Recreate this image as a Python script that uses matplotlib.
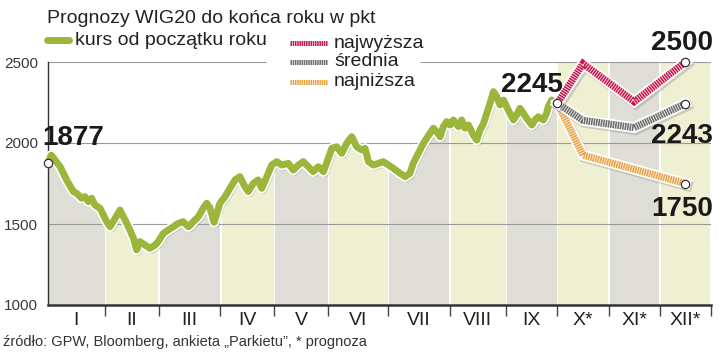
import numpy as np
import matplotlib
matplotlib.use('Agg')
import matplotlib.pyplot as plt
import matplotlib.patheffects as pe
from matplotlib.patches import Rectangle
from matplotlib.lines import Line2D

plt.rcParams['font.family'] = ['Liberation Sans', 'DejaVu Sans']
plt.rcParams['lines.scale_dashes'] = False

# DANE

months = ['I', 'II', 'III', 'IV', 'V', 'VI', 'VII', 'VIII', 'IX', 'X*', 'XI*', 'XII*']
month_sessions = [21, 20, 23, 20, 20, 22, 23, 21, 19, 19, 19, 19]

# kurs WIG20 (numer sesji, punkty)
wig_x = [0, 1.2, 4.5, 6.9, 9.4, 10.6, 12.5, 13.7, 15.0, 16.2,
         17.4, 19.3, 21.8, 23.0, 24.9, 26.7, 28.6, 30.4, 31.7, 32.9,
         34.1, 36.0, 37.8, 39.7, 40.9, 42.8, 44.6, 46.5, 48.3, 50.2,
         52.1, 53.9, 55.8, 57.6, 58.9, 60.1, 61.6, 63.8, 65.7, 67.5,
         69.4, 71.2, 73.1, 74.3, 76.2, 78.0, 79.3, 81.2, 83.0, 84.9,
         86.7, 89.2, 91.0, 92.9, 94.7, 96.6, 98.4, 100.3, 102.2, 104.0,
         105.3, 107.1, 109.0, 110.8, 112.7, 114.5, 116.4, 117.6, 118.9, 120.7,
         122.6, 124.4, 126.3, 128.1, 130.6, 132.5, 134.3, 135.5, 137.4, 139.3,
         140.5, 141.7, 143.0, 144.2, 145.5, 146.7, 147.9, 149.2, 150.4, 152.3,
         153.5, 154.7, 156.0, 157.8, 159.1, 160.3, 161.6, 162.8, 164.0, 165.3,
         166.5, 167.7, 169.0, 170.2, 171.4, 172.7, 173.9, 175.1, 176.4, 177.6,
         179.5, 180.7, 181.9, 183.8, 185.0, 185.6, 186.9, 188.1, 189]
wig_y = [1877, 1925, 1854, 1772, 1700, 1690, 1659, 1669, 1638, 1659,
         1617, 1597, 1514, 1483, 1535, 1586, 1525, 1463, 1412, 1340,
         1391, 1370, 1350, 1370, 1391, 1442, 1463, 1483, 1504, 1514,
         1483, 1514, 1545, 1597, 1628, 1600, 1510, 1628, 1669, 1720,
         1772, 1792, 1730, 1700, 1751, 1772, 1720, 1792, 1864, 1885,
         1864, 1874, 1833, 1864, 1885, 1854, 1823, 1854, 1823, 1905,
         1967, 1977, 1936, 1998, 2039, 1977, 1957, 1967, 1885, 1864,
         1874, 1885, 1864, 1844, 1813, 1792, 1813, 1874, 1936, 1998,
         2029, 2060, 2091, 2070, 2039, 2101, 2132, 2111, 2142, 2101,
         2142, 2091, 2111, 2049, 2018, 2080, 2121, 2183, 2245, 2317,
         2286, 2235, 2265, 2224, 2183, 2142, 2173, 2214, 2183, 2152,
         2111, 2142, 2162, 2142, 2183, 2224, 2265, 2255, 2245]

# prognozy: koniec IX, potem X, XI, XII
fc_high = [2245, 2490, 2255, 2500]
fc_mid = [2245, 2140, 2095, 2243]
fc_low = [2245, 1925, 1838, 1750]

edges = np.concatenate([[0], np.cumsum(month_sessions)])
mids = (edges[:-1] + edges[1:]) / 2
fc_x = [edges[9], mids[9], mids[10], mids[11]]

c_green = '#9bb63b'
c_red = '#c8174e'
c_gray = '#6e6e6e'
c_orange = '#e9a244'
band_cols = ['#deddd6', '#efefd2']
txt = '#222222'

fig = plt.figure(figsize=(7.2, 3.55), dpi=100)
ax = fig.add_axes([48 / 720, 50 / 355, 663 / 720, 243 / 355])
ax.set_xlim(0, edges[-1])
ax.set_ylim(1000, 2500)

# pasy miesięcy
gap = 0.4
for i in range(12):
    if i < 9:
        poly = ax.fill_between(wig_x, 1000, wig_y, color=band_cols[i % 2], lw=0, zorder=1)
        rect = Rectangle((edges[i] + gap, 1000), month_sessions[i] - 2 * gap, 1600,
                         transform=ax.transData)
        poly.set_clip_path(rect)
    else:
        ax.axvspan(edges[i] + gap, edges[i + 1] - gap, ymin=0, ymax=1,
                   color=band_cols[i % 2], lw=0, zorder=1)

# siatka
for v in [1500, 2000]:
    ax.axhline(v, color='#9a9a9a', lw=0.8, zorder=2)
ax.hlines(2500, 0, 81, color='#9a9a9a', lw=0.8, zorder=2)
ax.hlines(2500, 138, edges[-1], color='#9a9a9a', lw=0.8, zorder=2)

shadow = pe.SimpleLineShadow(offset=(1.2, -1.5), shadow_color='#888888', alpha=0.35)

ax.plot(wig_x, wig_y, color=c_green, lw=5.0, solid_joinstyle='round', solid_capstyle='round',
        zorder=4, clip_on=False,
        path_effects=[shadow, pe.Stroke(linewidth=7.4, foreground='white'), pe.Normal()])

for vals, col, z in [(fc_low, c_orange, 5), (fc_mid, c_gray, 6), (fc_high, c_red, 7)]:
    ax.plot(fc_x, vals, color='white', lw=7.8, solid_joinstyle='miter', zorder=z,
            clip_on=False, path_effects=[shadow, pe.Normal()])
    ax.plot(fc_x, vals, color=col, lw=5.2, linestyle=(0, (1.2, 0.55)), zorder=z,
            dash_joinstyle='miter', clip_on=False)

# kółka
mk = dict(marker='o', ms=6, mfc='white', mec='#333333', mew=0.9, ls='none', zorder=9, clip_on=False)
ax.plot([wig_x[0], fc_x[0]], [wig_y[0], fc_high[0]], **mk)
ax.plot([fc_x[-1]] * 3, [fc_high[-1], fc_mid[-1], fc_low[-1]], **mk)

# etykiety wartości
big = dict(fontsize=20, fontweight='bold', color='#1a1a1a', textcoords='offset points',
           va='center', zorder=10, annotation_clip=False)
ax.annotate(f'{wig_y[0]}', xy=(wig_x[0], wig_y[0]), xytext=(-4.3, 18), ha='left', **big)
ax.annotate(f'{fc_high[0]}', xy=(fc_x[0], fc_high[0]), xytext=(3.6, 13), ha='right', **big)
ax.annotate(f'{fc_high[-1]}', xy=(fc_x[-1], fc_high[-1]), xytext=(20, 14), ha='right', **big)
ax.annotate(f'{fc_mid[-1]}', xy=(fc_x[-1], fc_mid[-1]), xytext=(20, -23), ha='right', **big)
ax.annotate(f'{fc_low[-1]}', xy=(fc_x[-1], fc_low[-1]), xytext=(20, -18), ha='right', **big)

# osie
for s in ['top', 'right']:
    ax.spines[s].set_visible(False)
ax.spines['left'].set_color('#333333')
ax.spines['left'].set_linewidth(1.0)
ax.spines['bottom'].set_color('#333333')
ax.spines['bottom'].set_linewidth(1.8)
ax.spines['left'].set_zorder(3)

ax.set_xticks(edges[1:])
ax.set_xticklabels([])
ax.tick_params(axis='x', which='major', length=8, width=1, color='#444444', direction='out')
ax.set_xticks(mids, minor=True)
ax.set_xticklabels(months, minor=True, fontsize=14, color=txt)
ax.tick_params(axis='x', which='minor', length=0, pad=5)

ax.set_yticks([1000, 1500, 2000, 2500])
ax.set_yticklabels(['1000', '1500', '2000', '2500'], fontsize=11, color='#3a3a3a')
ax.tick_params(axis='y', length=0, pad=7)

# legenda i tytuł
fig.text(47 / 720, 1 - 22.7 / 355, 'Prognozy WIG20 do końca roku w pkt', fontsize=14,
         color=txt, va='baseline', ha='left')
fig.add_artist(Line2D([47 / 720, 69 / 720], [1 - 40 / 355] * 2, color=c_green, lw=5.0,
                      solid_capstyle='round', transform=fig.transFigure))
fig.text(75 / 720, 1 - 45 / 355, 'kurs od początku roku', fontsize=14, color=txt,
         va='baseline', ha='left')

leg = [(c_red, 43, 'najwyższa'), (c_gray, 62, 'średnia'), (c_orange, 82, 'najniższa')]
for col, yp, lab in leg:
    fig.add_artist(Line2D([290 / 720, 327 / 720], [1 - yp / 355] * 2, color=col, lw=3.6,
                          linestyle=(0, (1.1, 0.5)), transform=fig.transFigure))
    fig.text(334 / 720, 1 - (yp + 4.5) / 355, lab, fontsize=14, color=txt,
             va='baseline', ha='left')

fig.text(3 / 720, 1 - 346 / 355, 'źródło: GPW, Bloomberg, ankieta „Parkietu”, * prognoza',
         fontsize=10.5, color='#333333', va='baseline', ha='left')

fig.savefig('out.png', dpi=100)
